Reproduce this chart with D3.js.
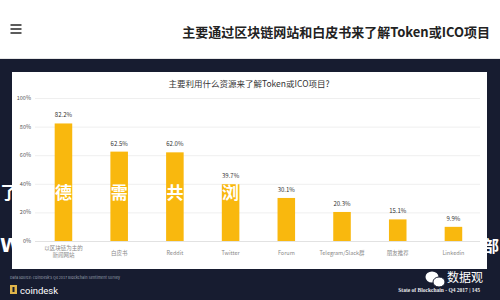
<!DOCTYPE html>
<html>
<head>
<meta charset="utf-8">
<script src="https://cdn.jsdelivr.net/npm/d3@7"></script>
<style>
  body { margin: 0; background: #fff; }
  svg { display: block; font-family: "Noto Sans CJK SC", "Noto Sans", sans-serif; }
</style>
</head>
<body>
<div id="chart"></div>
<script>
// data
var categories = ['以区块链为主的\n新闻网站', '白皮书', 'Reddit', 'Twitter', 'Forum', 'Telegram/Slack群', '朋友推荐', 'Linkedin'];
var values = [82.2, 62.5, 62.0, 39.7, 30.1, 20.3, 15.1, 9.9];
var yTicks = [0, 20, 40, 60, 80, 100];
var overlayRow1 = ['了', '德', '需', '共', '浏'];

var pageTitle = '主要通过区块链网站和白皮书来了解Token或ICO项目';
var chartTitle = '主要利用什么资源来了解Token或ICO项目?';

var W = 500, H = 300;
var svg = d3.select('#chart').append('svg').attr('width', W).attr('height', H);

// header
svg.append('rect').attr('x', 0).attr('y', 0).attr('width', W).attr('height', 59).attr('fill', '#fff');
svg.append('line').attr('x1', 0).attr('x2', W).attr('y1', 58.5).attr('y2', 58.5).attr('stroke', '#e6e6e6');
[25, 29, 33].forEach(function(y) {
  svg.append('line').attr('x1', 10.5).attr('x2', 21.5).attr('y1', y).attr('y2', y)
    .attr('stroke', '#333').attr('stroke-width', 1.6);
});
svg.append('text').attr('x', 490).attr('y', 37).attr('text-anchor', 'end')
  .attr('font-size', 13).attr('font-weight', 'bold').attr('fill', '#222').text(pageTitle);

// dark frame + white panel
svg.append('rect').attr('x', 0).attr('y', 59).attr('width', W).attr('height', H - 59).attr('fill', '#171c30');
svg.append('rect').attr('x', 12).attr('y', 72).attr('width', 475).attr('height', 197).attr('fill', '#fff');

svg.append('text').attr('x', 249).attr('y', 87).attr('text-anchor', 'middle')
  .attr('font-size', 8.5).attr('fill', '#333').text(chartTitle);

var x = d3.scaleBand().domain(categories).range([35.6, 481.3]).padding(0);
var y = d3.scaleLinear().domain([0, 100]).range([241, 98]);
var barW = x.bandwidth() * 0.315;

// grid + y labels
var g = svg.append('g');
g.selectAll('.grid').data(yTicks).enter().append('line')
  .attr('x1', 35).attr('x2', 480)
  .attr('y1', function(d) { return y(d) + 0.5; })
  .attr('y2', function(d) { return y(d) + 0.5; })
  .attr('stroke', function(d) { return d === 0 ? '#e2e2e2' : '#efefef'; });
g.selectAll('.ylab').data(yTicks).enter().append('text')
  .attr('x', 31).attr('y', function(d) { return y(d) + 2; })
  .attr('text-anchor', 'end').attr('font-size', 5.5).attr('fill', '#555')
  .text(function(d) { return d + '%'; });

// bars
g.selectAll('.bar').data(values).enter().append('rect')
  .attr('x', function(d, i) { return x(categories[i]) + (x.bandwidth() - barW) / 2; })
  .attr('y', function(d) { return y(d); })
  .attr('width', barW)
  .attr('height', function(d) { return y(0) - y(d); })
  .attr('fill', '#f9b80e');

g.selectAll('.vlab').data(values).enter().append('text')
  .attr('x', function(d, i) { return x(categories[i]) + x.bandwidth() / 2; })
  .attr('y', function(d) { return y(d) - 6; })
  .attr('text-anchor', 'middle').attr('font-size', 6).attr('fill', '#333')
  .text(function(d) { return d.toFixed(1) + '%'; });

// x labels
categories.forEach(function(c, i) {
  var lines = c.split('\n');
  var cx = x(c) + x.bandwidth() / 2;
  lines.forEach(function(l, j) {
    g.append('text').attr('x', cx)
      .attr('y', lines.length > 1 ? 250 + j * 6.5 : 255)
      .attr('text-anchor', 'middle').attr('font-size', 5.5).attr('fill', '#888').text(l);
  });
});

// white overlay text over everything
overlayRow1.forEach(function(ch, i) {
  var cx = i === 0 ? 9 : x(categories[i - 1]) + x.bandwidth() / 2;
  svg.append('text').attr('x', cx).attr('y', 199).attr('text-anchor', 'middle')
    .attr('font-size', 17).attr('font-weight', 'bold').attr('fill', '#fff').text(ch);
});
svg.append('text').attr('x', 0).attr('y', 252).attr('font-size', 19)
  .attr('font-weight', 'bold').attr('fill', '#fff').attr('font-family', 'DejaVu Sans').text('W');
svg.append('text').attr('x', 483).attr('y', 252).attr('font-size', 16)
  .attr('font-weight', 'bold').attr('fill', '#fff').text('部');

// footer
svg.append('text').attr('x', 10).attr('y', 279).attr('font-size', 3.8).attr('fill', '#9aa0b0')
  .text("Data source: CoinDesk's Q4 2017 Blockchain Sentiment Survey");
svg.append('rect').attr('x', 10).attr('y', 285).attr('width', 7).attr('height', 9).attr('fill', '#e0b44a');
svg.append('rect').attr('x', 12.5).attr('y', 287).attr('width', 2).attr('height', 5).attr('fill', '#171c30');
svg.append('text').attr('x', 20).attr('y', 294).attr('font-size', 9.5).attr('fill', '#fff')
  .attr('font-family', 'Roboto, sans-serif').text('coindesk');

svg.append('ellipse').attr('cx', 432).attr('cy', 277).attr('rx', 6.5).attr('ry', 5.5).attr('fill', '#fff');
svg.append('ellipse').attr('cx', 439).attr('cy', 282).attr('rx', 6).attr('ry', 5).attr('fill', '#fff')
  .attr('stroke', '#171c30').attr('stroke-width', 1);
svg.append('text').attr('x', 447).attr('y', 282).attr('font-size', 12).attr('fill', '#fff').text('数据观');
svg.append('text').attr('x', 480).attr('y', 292).attr('text-anchor', 'end').attr('font-size', 5.5)
  .attr('font-weight', 'bold').attr('font-family', 'Liberation Serif, serif').attr('fill', '#e8e8ec')
  .text('State of Blockchain - Q4 2017   |   145');
</script>
</body>
</html>
